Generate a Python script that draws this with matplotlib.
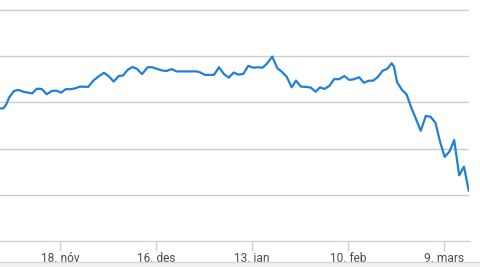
import matplotlib
matplotlib.use("Agg")
import matplotlib.pyplot as plt
import datetime as dt

start = dt.datetime(2019, 11, 1)

# day offsets from 1 Nov 2019 and the interest values
days = [-0.5, 0.46, 1.25, 2.21, 3.58, 4.84, 6.3, 7.75, 8.92, 10.2, 11.66, 13.12, 14.58,
        15.92, 17.29, 18.66, 20.2, 21.5, 22.83, 25.25, 26.71, 28.17, 29.83, 31.38, 32.66,
        34.12, 35.38, 36.69, 38.15, 39.46, 40.92, 42.58, 43.83, 45.52, 46.75, 48.12, 49.58,
        50.98, 56.87, 57.83, 59.29, 61.92, 63.38, 64.83, 66.23, 67.66, 69.0, 70.46, 71.92,
        73.38, 74.84, 76.12, 77.46, 78.92, 80.38, 81.66, 83.12, 84.58, 85.83, 87.29, 88.75,
        90.12, 91.58, 92.83, 94.09, 95.55, 97.0, 98.38, 99.92, 101.38, 102.75, 104.21,
        105.67, 107.13, 108.38, 109.66, 111.12, 112.46, 113.75, 114.42, 115.3, 116.66,
        118.12, 119.46, 120.92, 122.23, 123.69, 125.06, 126.52, 127.83, 129.2, 130.6,
        131.98, 133.44, 134.83, 136.23]
values = [57.4, 57.4, 58.9, 62.2, 64.9, 65.4, 64.6, 64.2, 63.9, 65.9, 65.8, 63.5, 64.9,
          65.1, 64.2, 65.7, 65.7, 66.1, 66.8, 66.7, 69.4, 71.1, 72.8, 71.1, 69.0,
          71.4, 71.6, 74.0, 75.3, 74.5, 72.2, 75.2, 75.2, 74.4, 73.8, 73.6, 74.4,
          73.4, 73.4, 73.0, 71.9, 71.9, 75.2, 72.2, 70.7, 72.9, 72.0, 72.3, 75.8,
          75.0, 75.2, 75.0, 76.9, 79.8, 74.8, 73.3, 71.1, 66.5, 69.4, 66.8, 66.7,
          66.4, 64.6, 66.5, 65.8, 67.1, 70.1, 70.0, 71.4, 69.7, 70.0, 70.9,
          68.5, 69.4, 69.4, 70.9, 73.7, 74.5, 76.9, 75.5, 68.8, 65.6,
          63.4, 57.7, 52.5, 47.7, 54.1, 53.8, 51.2, 43.1, 36.4, 38.7,
          43.7, 28.4, 32.2, 21.8]

tick_dates = [dt.datetime(2019, 11, 18), dt.datetime(2019, 12, 16), dt.datetime(2020, 1, 13),
              dt.datetime(2020, 2, 10), dt.datetime(2020, 3, 9)]
tick_labels = ["18. nóv", "16. des", "13. jan", "10. feb", "9. mars"]
grid_values = [20, 40, 60, 80, 100]

dates = [start + dt.timedelta(days=d) for d in days]

fig = plt.figure(figsize=(4.81, 2.67), dpi=100)
ax = fig.add_axes([0, 26 / 267, 469 / 481, 241 / 267])

for g in grid_values:
    ax.axhline(g, color="#cccccc", lw=1.0, zorder=1)

ax.plot(dates, values, color="#1f80d6", lw=1.6, zorder=3, solid_joinstyle="round")

ax.set_xlim(start + dt.timedelta(days=-0.5), start + dt.timedelta(days=136.3))
ax.set_ylim(0, 104.3)

for s in ["top", "right", "left"]:
    ax.spines[s].set_visible(False)
ax.spines["bottom"].set_color("#c6d4e2")
ax.spines["bottom"].set_linewidth(1.0)
ax.set_yticks([])
ax.set_xticks(tick_dates)
ax.set_xticklabels(tick_labels, fontfamily="Roboto", fontsize=8.6, color="#4a4a4a")
ax.tick_params(axis="x", length=7, width=1, color="#c6d4e2", pad=1)

# light footer band
fig.patches.append(plt.Rectangle((0, 0), 1, 5 / 267, transform=fig.transFigure,
                                 facecolor="#f1f1f1", edgecolor="none", zorder=0))
fig.lines.append(plt.Line2D([0, 1], [5 / 267, 5 / 267], transform=fig.transFigure,
                            color="#d8d8d8", lw=1))

fig.savefig("out.png", dpi=100)
